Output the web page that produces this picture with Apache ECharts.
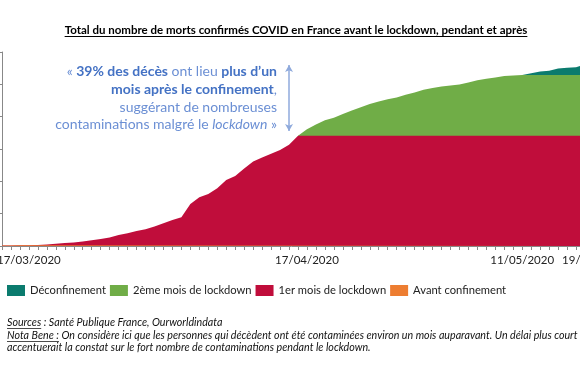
<!DOCTYPE html>
<html>
<head>
<meta charset="utf-8">
<script src="https://cdn.jsdelivr.net/npm/echarts@6/dist/echarts.min.js"></script>
<style>
html, body { margin: 0; padding: 0; background: #fff; }
#chart { width: 580px; height: 375px; }
</style>
</head>
<body>
<div id="chart"></div>
<script>
// jours du 14/03 au 19/05/2020
const dates = [
    '14/03/2020', '15/03/2020', '16/03/2020', '17/03/2020', '18/03/2020', '19/03/2020', '20/03/2020',
    '21/03/2020', '22/03/2020', '23/03/2020', '24/03/2020', '25/03/2020', '26/03/2020', '27/03/2020',
    '28/03/2020', '29/03/2020', '30/03/2020', '31/03/2020',
    '01/04/2020', '02/04/2020', '03/04/2020', '04/04/2020', '05/04/2020', '06/04/2020', '07/04/2020',
    '08/04/2020', '09/04/2020', '10/04/2020', '11/04/2020', '12/04/2020', '13/04/2020', '14/04/2020',
    '15/04/2020', '16/04/2020', '17/04/2020', '18/04/2020', '19/04/2020', '20/04/2020', '21/04/2020',
    '22/04/2020', '23/04/2020', '24/04/2020', '25/04/2020', '26/04/2020', '27/04/2020', '28/04/2020',
    '29/04/2020', '30/04/2020',
    '01/05/2020', '02/05/2020', '03/05/2020', '04/05/2020', '05/05/2020', '06/05/2020', '07/05/2020',
    '08/05/2020', '09/05/2020', '10/05/2020', '11/05/2020', '12/05/2020', '13/05/2020', '14/05/2020',
    '15/05/2020', '16/05/2020', '17/05/2020', '18/05/2020', '19/05/2020'
];
// morts cumulés
const totalDeaths = [
    60, 80, 100, 130, 170, 250, 360, 450, 560, 680,
    870, 1100, 1330, 1690, 1990, 2310, 2600, 3020, 3520, 4030,
    4450, 6500, 7520, 8050, 8920, 10200, 10820, 12000, 13050, 13700,
    14250, 14850, 15650, 17050, 18050, 18800, 19450, 19850, 20400, 20950,
    21450, 21950, 22350, 22700, 22950, 23380, 23750, 24150, 24450, 24650,
    24830, 24980, 25300, 25620, 25880, 26050, 26300, 26380, 26440, 26700,
    27000, 27100, 27430, 27550, 27650, 28100, 28240
];
// fin de chaque période
const finAvant = '17/03/2020';
const finMois1 = '16/04/2020';
const finMois2 = '11/05/2020';
const shownLabels = ['17/03/2020', '17/04/2020', '11/05/2020', '19/05/2020'];
const yTicks = [0, 5000, 10000, 15000, 20000, 25000, 30000];
const arrowDate = '15/04/2020';
const arrowRange = [17800, 28000];

const titre = 'Total du nombre de morts confirmés COVID en France avant le lockdown, pendant et après';

// niveau d'une periode : la courbe jusqu'a la fin, puis plat
function level(fromDate, toDate) {
    let a = fromDate ? dates.indexOf(fromDate) : 0;
    let b = toDate ? dates.indexOf(toDate) : dates.length - 1;
    let out = [];
    for (let i = a; i <= b; i++) out.push([i, totalDeaths[i]]);
    if (b < dates.length - 1) out.push([dates.length - 1, totalDeaths[b]]);
    return out;
}

function measure(text, font) {
    let ctx = document.createElement('canvas').getContext('2d');
    ctx.font = font;
    return ctx.measureText(text).width;
}

const FONT = 'Lato';
const titleFont = 'bold 11.5px ' + FONT;
const noteFont = 'italic 10.7px ' + FONT;
let titleW = measure(titre, titleFont);
let sourcesW = measure('Sources', noteFont);
let notaW = measure('Nota Bene :', noteFont);

function area(name, color, data, z) {
    return {
        name: name,
        type: 'line',
        data: data,
        color: color,
        symbol: 'none',
        smooth: false,
        z: z,
        lineStyle: { width: 0, color: color },
        areaStyle: { color: color, opacity: 1 },
        itemStyle: { color: color }
    };
}

const blueB = '#4472C4';
const blueR = '#6B8FD4';
const rich = {
    b: { fontFamily: FONT, fontSize: 14, fontWeight: 'bold', fill: blueB, color: blueB },
    r: { fontFamily: FONT, fontSize: 14, fill: blueR, color: blueR },
    i: { fontFamily: FONT, fontSize: 14, fontStyle: 'italic', fill: blueR, color: blueR }
};

let myChart = echarts.init(document.getElementById('chart'));
let red = area('1er mois de lockdown', '#C00D3B', level(null, finMois1), 3);
red.markLine = {
    silent: true,
    symbol: ['arrow', 'arrow'],
    symbolSize: [6, 7],
    label: { show: false },
    lineStyle: { color: '#8FAADC', width: 1.5, type: 'solid' },
    data: [[{ coord: [arrowDate, arrowRange[0]] }, { coord: [arrowDate, arrowRange[1]] }]]
};
let option = {
    animation: false,
    grid: { left: 2, right: -14, top: 52, bottom: 129, containLabel: false, outerBoundsMode: 'none' },
    legend: {
        left: 7,
        top: 285,
        padding: 0,
        icon: 'rect',
        itemWidth: 18,
        itemHeight: 11,
        itemGap: 4,
        textStyle: { fontFamily: FONT, fontSize: 11.2, color: '#222' },
        data: ['Déconfinement', '2ème mois de lockdown', '1er mois de lockdown', 'Avant confinement']
    },
    xAxis: {
        type: 'category',
        boundaryGap: false,
        data: dates,
        axisLine: { lineStyle: { color: '#888', width: 1 } },
        axisTick: { show: true, interval: 0, length: 4, lineStyle: { color: '#888' } },
        axisLabel: {
            interval: function (idx, val) { return shownLabels.indexOf(val) >= 0; },
            fontFamily: FONT,
            fontSize: 11.5,
            color: '#222',
            margin: 8
        },
        splitLine: { show: false }
    },
    yAxis: {
        type: 'value',
        min: yTicks[0],
        max: yTicks[yTicks.length - 1],
        interval: yTicks[1] - yTicks[0],
        axisLine: { show: true, lineStyle: { color: '#888' } },
        axisTick: { show: true, length: 3, lineStyle: { color: '#888' } },
        axisLabel: { show: false },
        splitLine: { show: false }
    },
    series: [
        area('Déconfinement', '#0B7B6E', level(finMois2, null), 1),
        area('2ème mois de lockdown', '#70AD47', level(finMois1, finMois2), 2),
        red,
        area('Avant confinement', '#ED7D31', level(null, finAvant), 4)
    ],
    graphic: [
        {
            type: 'text', x: 296, y: 30,
            style: { text: titre, font: titleFont, fill: '#000', align: 'center', verticalAlign: 'middle' }
        },
        { type: 'rect', x: 296 - titleW / 2, y: 36, shape: { width: titleW, height: 1 }, style: { fill: '#000' } },
        {
            type: 'text', x: 277, y: 71,
            style: { text: '{r|« }{b|39% des décès}{r| ont lieu }{b|plus d’un}', rich: rich, align: 'right', verticalAlign: 'middle' }
        },
        {
            type: 'text', x: 277, y: 89,
            style: { text: '{b|mois après le confinement}{r|,}', rich: rich, align: 'right', verticalAlign: 'middle' }
        },
        {
            type: 'text', x: 277, y: 107,
            style: { text: '{r|suggérant de nombreuses}', rich: rich, align: 'right', verticalAlign: 'middle' }
        },
        {
            type: 'text', x: 277, y: 124,
            style: { text: '{r|contaminations malgré le }{i|lockdown}{r| »}', rich: rich, align: 'right', verticalAlign: 'middle' }
        },
        {
            type: 'text', x: 7, y: 323,
            style: { text: 'Sources : Santé Publique France, Ourworldindata', font: noteFont, fill: '#111', verticalAlign: 'middle' }
        },
        { type: 'rect', x: 7, y: 328, shape: { width: sourcesW, height: 0.8 }, style: { fill: '#111' } },
        {
            type: 'text', x: 7, y: 336,
            style: { text: 'Nota Bene : On considère ici que les personnes qui décèdent ont été contaminées environ un mois auparavant. Un délai plus court', font: noteFont, fill: '#111', verticalAlign: 'middle' }
        },
        { type: 'rect', x: 7, y: 341, shape: { width: notaW, height: 0.8 }, style: { fill: '#111' } },
        {
            type: 'text', x: 7, y: 348,
            style: { text: 'accentuerait la constat sur le fort nombre de contaminations pendant le lockdown.', font: noteFont, fill: '#111', verticalAlign: 'middle' }
        }
    ]
};
myChart.setOption(option);
</script>
</body>
</html>
